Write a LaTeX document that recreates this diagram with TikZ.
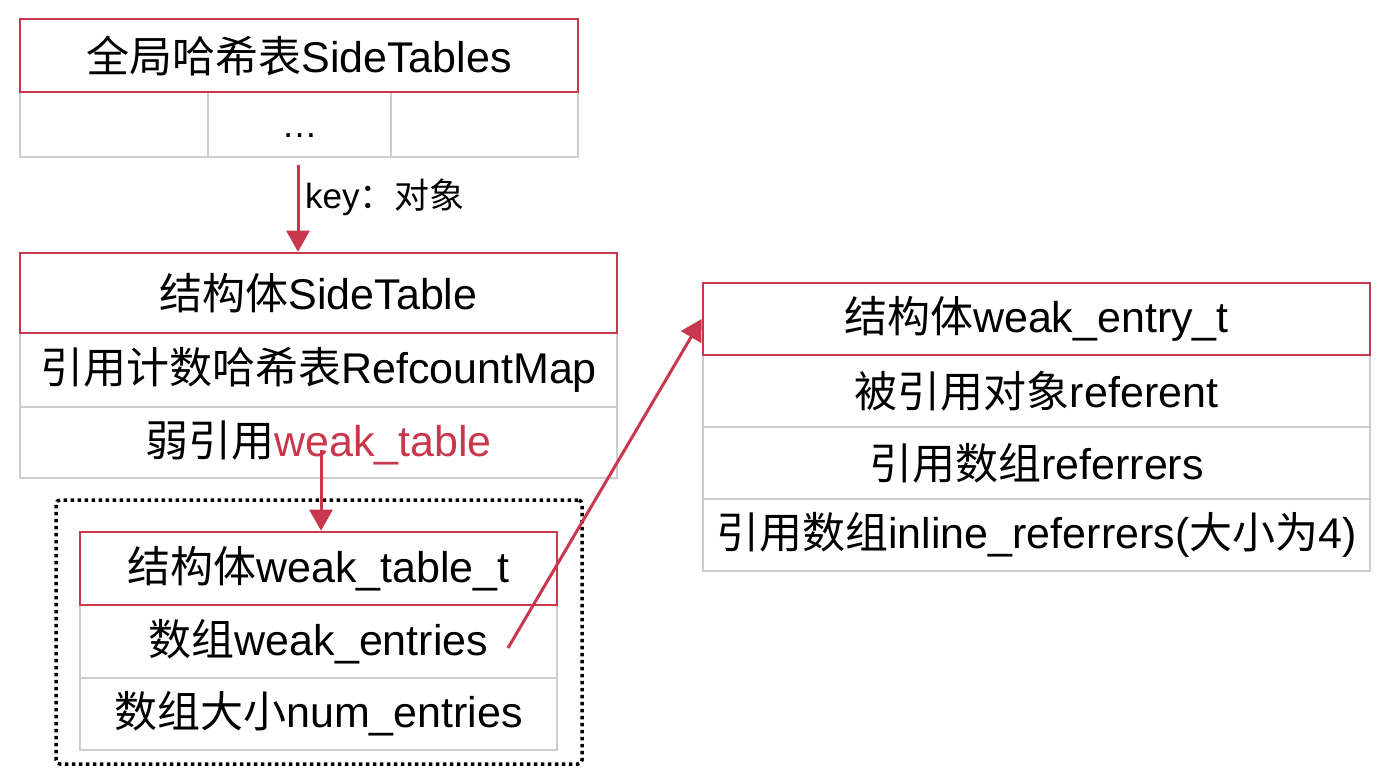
\documentclass[tikz,border=0pt]{standalone}
\usepackage{fontspec}
\setmainfont{Liberation Sans}
\newfontfamily\cjkfont{Noto Sans CJK SC}
\newcommand{\zhtxt}[1]{{\cjkfont #1}}
\usetikzlibrary{arrows.meta}
\definecolor{redc}{RGB}{200,55,75}
\definecolor{grayc}{RGB}{205,205,205}
\begin{document}
\begin{tikzpicture}[x=1pt,y=-1pt,
  cell/.style={draw=grayc, line width=1.3pt, rectangle, inner sep=0pt, font=\fontsize{43}{50}\selectfont},
  hdr/.style={draw=redc, line width=2.6pt, rectangle, inner sep=0pt, font=\fontsize{43}{50}\selectfont},
  redarrow/.style={draw=redc, line width=3pt, -{Triangle[length=21pt,width=23pt]}},
  dotbox/.style={draw=black, line width=3.5pt, dash pattern=on 3.5pt off 3.5pt, rounded corners=4pt}
]
\useasboundingbox[fill=white] (0,0) rectangle (1390,784);

% top table
\node[cell, minimum width=188pt, minimum height=65pt] (c1) at (114,124.5) {};
\node[cell, minimum width=183pt, minimum height=65pt, text height=25pt, text depth=0pt] (c2) at (299.5,124.5) {\fontsize{36}{40}\selectfont …};
\node[cell, minimum width=187pt, minimum height=65pt] (c3) at (484.5,124.5) {};
\node[hdr, minimum width=558pt, minimum height=73pt] (sts) at (299,55.5) {\zhtxt{全局哈希表}SideTables};

% SideTable
\node[cell, minimum width=597pt, minimum height=74pt] (rc) at (318.5,370) {\zhtxt{引用计数哈希表}RefcountMap};
\node[cell, minimum width=597pt, minimum height=71pt] (wk) at (318.5,442.5) {\zhtxt{弱引用}\textcolor{redc}{weak\_table}};
\node[hdr, minimum width=597pt, minimum height=80pt] (sth) at (318.5,293) {\zhtxt{结构体}SideTable};

% dotted group
\node[dotbox, minimum width=526pt, minimum height=264pt] (grp) at (319,632) {};

% weak_table_t
\node[cell, minimum width=477pt, minimum height=73pt] (we) at (318.5,641.5) {\zhtxt{数组}weak\_entries};
\node[cell, minimum width=477pt, minimum height=72pt] (ne) at (318.5,714) {\zhtxt{数组大小}num\_entries};
\node[hdr, minimum width=477pt, minimum height=73pt] (wtt) at (318.5,568.5) {\zhtxt{结构体}weak\_table\_t};

% weak_entry_t
\node[cell, minimum width=667pt, minimum height=72pt] (r1) at (1036.5,391) {\zhtxt{被引用对象}referent};
\node[cell, minimum width=667pt, minimum height=72pt] (r2) at (1036.5,463) {\zhtxt{引用数组}referrers};
\node[cell, minimum width=667pt, minimum height=72pt] (r3) at (1036.5,535) {\zhtxt{引用数组}inline\_referrers(\zhtxt{大小为}4)};
\node[hdr, minimum width=667pt, minimum height=72pt] (weh) at (1036.5,319) {\zhtxt{结构体}weak\_entry\_t};

% arrows
\coordinate (a1s) at (298,165);
\draw[redarrow] (a1s) -- (a1s |- sth.north);
\node[anchor=west, inner sep=0pt, font=\fontsize{35}{40}\selectfont] (keylbl) at (305,197) {key\zhtxt{：对象}};

\coordinate (a2s) at (321,450);
\draw[redarrow] (a2s) -- (a2s |- wtt.north);

\coordinate (a3s) at (508,648);
\draw[redarrow] (a3s) -- (weh.west);
\end{tikzpicture}
\end{document}
